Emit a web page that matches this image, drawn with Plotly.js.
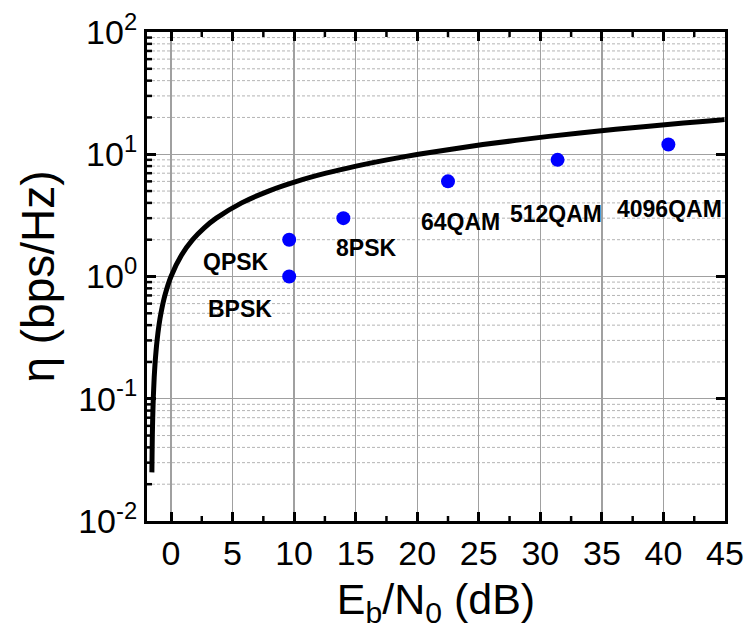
<!DOCTYPE html>
<html>
<head>
<meta charset="utf-8">
<script src="https://cdn.plot.ly/plotly-3.0.1.min.js"></script>
<style>html,body{margin:0;padding:0;background:#fff;}#chart{width:747px;height:640px;}</style>
</head>
<body>
<div id="chart"></div>
<script>
// Shannon limit curve
var limitEbN0 = [-1.554, -1.538, -1.517, -1.486, -1.441, -1.364, -1.287, -1.132, -0.976, -0.818, -0.496, 0.0, 0.860, 1.761, 2.701, 3.680, 5.740, 7.924, 10.212, 12.587, 15.035, 17.542, 20.099, 25.331, 30.683, 36.124, 41.632, 44.408, 44.96];
var limitEta   = [0.025, 0.035, 0.05, 0.07, 0.1, 0.15, 0.2, 0.3, 0.4, 0.5, 0.7, 1, 1.5, 2, 2.5, 3, 4, 5, 6, 7, 8, 9, 10, 12, 14, 16, 18, 19, 19.2];

// modulation schemes
var modNames = ["BPSK", "QPSK", "8PSK", "64QAM", "512QAM", "4096QAM"];
var modEbN0  = [9.6, 9.6, 14.0, 22.5, 31.4, 40.4];
var modEta   = [1, 2, 3, 6, 9, 12];
// label anchor points (data coords)
var labelX = [5.63, 5.30, 15.84, 23.51, 31.30, 40.53];
var labelY = [0.542, 1.302, 1.702, 2.808, 3.258, 3.565];

var xTicks = [0, 5, 10, 15, 20, 25, 30, 35, 40, 45];
var xMinor = [2.5, 7.5, 12.5, 17.5, 22.5, 27.5, 32.5, 37.5, 42.5];
var yTicks = [0.01, 0.1, 1, 10, 100];
var yTickText = ["10<sup>-2</sup>", "10<sup>-1</sup>", "10<sup>0</sup>", "10<sup>1</sup>", "10<sup>2</sup>"];
var yMinor = [0.02,0.03,0.04,0.05,0.06,0.07,0.08,0.09,0.2,0.3,0.4,0.5,0.6,0.7,0.8,0.9,2,3,4,5,6,7,8,9,20,30,40,50,60,70,80,90];

var FONT = "Arial, 'Liberation Sans', sans-serif";
var MARGIN = {l: 147, r: 22, t: 32, b: 119};
var PLOT_W = 747 - MARGIN.l - MARGIN.r;
var PLOT_H = 640 - MARGIN.t - MARGIN.b;
var MINOR_LEN = 5;

var traces = [
  {x: limitEbN0, y: limitEta, type: "scatter", mode: "lines",
   line: {color: "#000000", width: 5, shape: "spline", smoothing: 0.6}, hoverinfo: "skip"},
  {x: modEbN0, y: modEta, type: "scatter", mode: "markers",
   marker: {color: "#0000ff", size: 14}, hoverinfo: "skip"}
];

var annotations = modNames.map(function (n, i) {
  return {x: labelX[i], y: Math.log10(labelY[i]), xref: "x", yref: "y", text: "<b>" + n + "</b>",
          showarrow: false, xanchor: "center", yanchor: "middle",
          font: {family: FONT, size: 23, color: "#000000"}};
});

// dashed minor grid lines + minor tick marks (styling only)
var shapes = [];
yMinor.forEach(function (v) {
  shapes.push({type: "line", xref: "paper", yref: "y", x0: 0, x1: 1, y0: v, y1: v, layer: "below",
               line: {color: "#b4b4b4", width: 1, dash: "3px,2px"}});
  shapes.push({type: "line", xref: "paper", yref: "y", x0: 0, x1: MINOR_LEN / PLOT_W, y0: v, y1: v, layer: "above",
               line: {color: "#000000", width: 2.5}});
});
xMinor.forEach(function (v) {
  shapes.push({type: "line", xref: "x", yref: "paper", x0: v, x1: v, y0: 0, y1: MINOR_LEN / PLOT_H, layer: "above",
               line: {color: "#000000", width: 2.5}});
  shapes.push({type: "line", xref: "x", yref: "paper", x0: v, x1: v, y0: 1 - MINOR_LEN / PLOT_H, y1: 1, layer: "above",
               line: {color: "#000000", width: 2.5}});
});

var layout = {
  width: 747, height: 640,
  margin: {l: MARGIN.l, r: MARGIN.r, t: MARGIN.t, b: MARGIN.b, pad: 0},
  paper_bgcolor: "#ffffff", plot_bgcolor: "#ffffff",
  showlegend: false,
  font: {family: FONT, color: "#000000"},
  xaxis: {
    range: [-1.95, 45], tickmode: "array", tickvals: xTicks,
    ticks: "inside", ticklen: 9, tickwidth: 3, tickcolor: "#000000",
    showline: true, linewidth: 3, linecolor: "#000000", mirror: "ticks",
    showgrid: true, gridcolor: "#a0a0a0", gridwidth: 1.3, zeroline: false,
    tickfont: {family: FONT, size: 34, color: "#000"},
    title: {text: "E<sub>b</sub>/N<sub>0</sub> (dB)", font: {family: FONT, size: 43, color: "#000"}, standoff: 14}
  },
  yaxis: {
    type: "log", range: [-2, 2], tickmode: "array", tickvals: yTicks, ticktext: yTickText,
    ticks: "inside", ticklen: 9, tickwidth: 3, tickcolor: "#000000",
    showline: true, linewidth: 3, linecolor: "#000000", mirror: "ticks",
    showgrid: true, gridcolor: "#a0a0a0", gridwidth: 1.3, zeroline: false,
    tickfont: {family: FONT, size: 34, color: "#000"},
    title: {text: "η (bps/Hz)", font: {family: FONT, size: 46, color: "#000"}, standoff: 10}
  },
  shapes: shapes,
  annotations: annotations
};

Plotly.newPlot("chart", traces, layout, {displayModeBar: false, staticPlot: true});
</script>
</body>
</html>
